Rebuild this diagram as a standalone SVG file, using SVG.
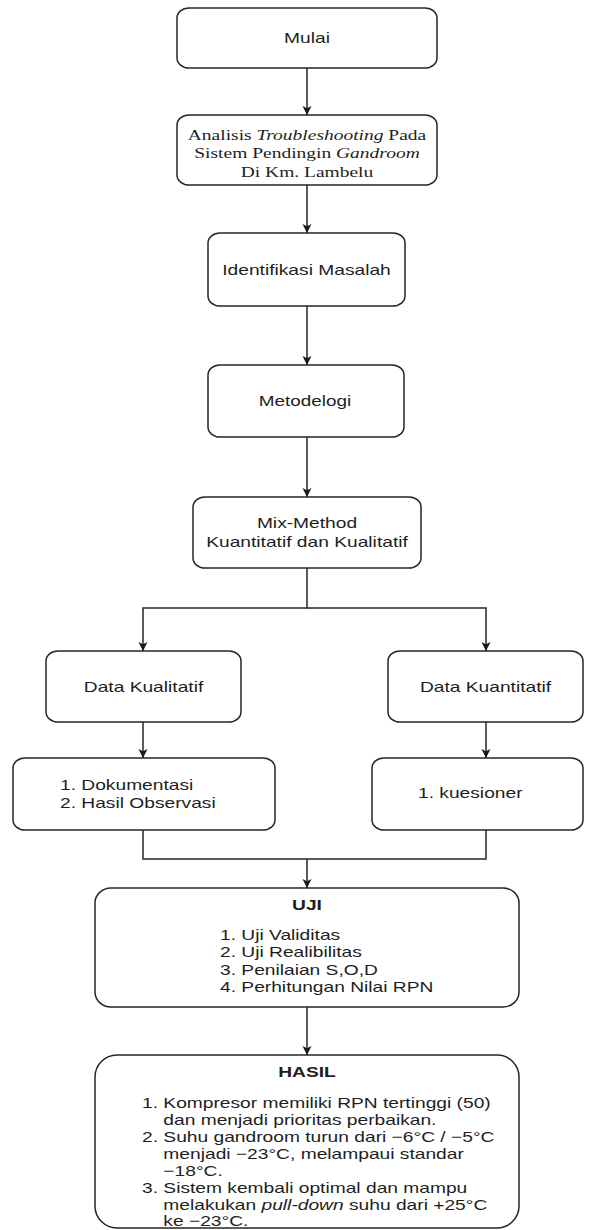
<svg xmlns="http://www.w3.org/2000/svg" width="594" height="1230" viewBox="0 0 594 1230">
<style>
.box{fill:#fff;stroke:#262626;stroke-width:1.5}
.edge{fill:none;stroke:#262626;stroke-width:1.5}
.t{font-family:"Liberation Sans",Arial,sans-serif;font-size:15px;fill:#1e1e1e}
.s{font-family:"Liberation Serif","Times New Roman",serif;font-size:15.6px;fill:#1e1e1e}
.b{font-weight:bold}
.i{font-style:italic}
</style>
<defs>
<marker id="arr" viewBox="0 0 10 10" refX="10" refY="5" markerWidth="9" markerHeight="11" markerUnits="userSpaceOnUse" orient="auto">
<path d="M0,0 L10,5 L0,10 L2.5,5 z" fill="#1a1a1a"/>
</marker>
</defs>
<rect width="594" height="1230" fill="#fff"/>
<g id="connectors">
<path class="edge" d="M307 68 V115" marker-end="url(#arr)"/>
<path class="edge" d="M307 185 V233" marker-end="url(#arr)"/>
<path class="edge" d="M307 306 V365" marker-end="url(#arr)"/>
<path class="edge" d="M307 437 V497" marker-end="url(#arr)"/>
<path class="edge" d="M307 568 V608 H143 V651" marker-end="url(#arr)"/>
<path class="edge" d="M307 608 H486 V651" marker-end="url(#arr)"/>
<path class="edge" d="M143 722 V758" marker-end="url(#arr)"/>
<path class="edge" d="M486 722 V758" marker-end="url(#arr)"/>
<path class="edge" d="M143 830 V859 H486 V830"/>
<path class="edge" d="M307 859 V888" marker-end="url(#arr)"/>
<path class="edge" d="M307 1007 V1055" marker-end="url(#arr)"/>
</g>
<g id="mulai">
<rect class="box" x="177" y="8" width="260" height="60" rx="12" ry="10"/>
<text class="t" text-anchor="middle" transform="translate(307 43) scale(1.28 1)">Mulai</text>
</g>
<g id="analisis">
<rect class="box" x="177" y="115" width="260" height="70" rx="12" ry="10"/>
<g transform="translate(307 0) scale(1.25 1)">
<text class="s" text-anchor="middle" x="0" y="140">Analisis <tspan class="i">Troubleshooting</tspan> Pada</text>
<text class="s" text-anchor="middle" x="0" y="158.5">Sistem Pendingin <tspan class="i">Gandroom</tspan></text>
<text class="s" text-anchor="middle" x="0" y="177">Di Km. Lambelu</text>
</g>
</g>
<g id="identifikasi">
<rect class="box" x="208" y="233" width="197" height="73" rx="12" ry="10"/>
<text class="t" text-anchor="middle" transform="translate(306.5 275) scale(1.28 1)">Identifikasi Masalah</text>
</g>
<g id="metodelogi">
<rect class="box" x="208" y="365" width="196" height="72" rx="12" ry="10"/>
<text class="t" text-anchor="middle" transform="translate(305 406) scale(1.26 1)">Metodelogi</text>
</g>
<g id="mixmethod">
<rect class="box" x="193" y="497" width="228" height="71" rx="12" ry="10"/>
<g transform="translate(307 0) scale(1.28 1)">
<text class="t" text-anchor="middle" x="0" y="528">Mix-Method</text>
<text class="t" text-anchor="middle" x="0" y="547">Kuantitatif dan Kualitatif</text>
</g>
</g>
<g id="kualitatif">
<rect class="box" x="46" y="651" width="195" height="71" rx="12" ry="10"/>
<text class="t" text-anchor="middle" transform="translate(143.5 692) scale(1.28 1)">Data Kualitatif</text>
</g>
<g id="kuantitatif">
<rect class="box" x="388" y="651" width="195" height="71" rx="12" ry="10"/>
<text class="t" text-anchor="middle" transform="translate(485.5 692) scale(1.28 1)">Data Kuantitatif</text>
</g>
<g id="dokumentasi">
<rect class="box" x="13" y="758" width="262" height="72" rx="12" ry="10"/>
<g transform="translate(60 0) scale(1.28 1)">
<text class="t" x="0" y="790">1. Dokumentasi</text>
<text class="t" x="0" y="808">2. Hasil Observasi</text>
</g>
</g>
<g id="kuesioner">
<rect class="box" x="372" y="758" width="211" height="72" rx="12" ry="10"/>
<text class="t" transform="translate(418 798) scale(1.28 1)">1. kuesioner</text>
</g>
<g id="uji">
<rect class="box" x="95" y="888" width="424" height="119" rx="16" ry="15"/>
<text class="t b" text-anchor="middle" transform="translate(307 910) scale(1.28 1)">UJI</text>
<g transform="translate(220 0) scale(1.28 1)">
<text class="t" x="0" y="940">1. Uji Validitas</text>
<text class="t" x="0" y="957.5">2. Uji Realibilitas</text>
<text class="t" x="0" y="975">3. Penilaian S,O,D</text>
<text class="t" x="0" y="992.5">4. Perhitungan Nilai RPN</text>
</g>
</g>
<g id="hasil">
<rect class="box" x="95" y="1055" width="424" height="173" rx="22" ry="22"/>
<text class="t b" text-anchor="middle" transform="translate(307 1077) scale(1.28 1)">HASIL</text>
<g transform="translate(142 0) scale(1.28 1)">
<text class="t" x="0" y="1108">1. Kompresor memiliki RPN tertinggi (50)</text>
<text class="t" x="16.7" y="1125">dan menjadi prioritas perbaikan.</text>
<text class="t" x="0" y="1142">2. Suhu gandroom turun dari −6°C / −5°C</text>
<text class="t" x="16.7" y="1159">menjadi −23°C, melampaui standar</text>
<text class="t" x="16.7" y="1176">−18°C.</text>
<text class="t" x="0" y="1193">3. Sistem kembali optimal dan mampu</text>
<text class="t" x="16.7" y="1210">melakukan <tspan class="i">pull-down</tspan> suhu dari +25°C</text>
<text class="t" x="16.7" y="1226">ke −23°C.</text>
</g>
</g>
</svg>
